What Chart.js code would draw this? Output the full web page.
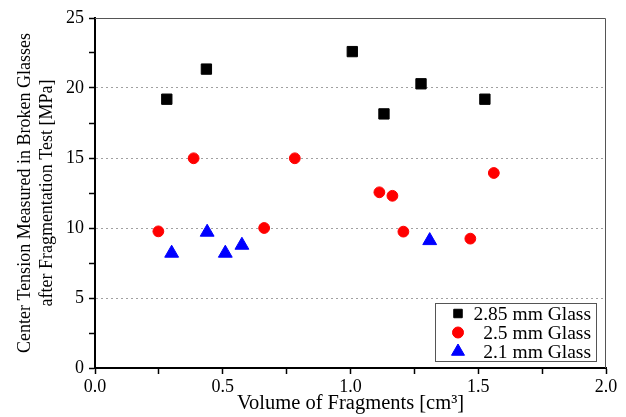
<!DOCTYPE html>
<html>
<head>
<meta charset="utf-8">
<script src="https://cdn.jsdelivr.net/npm/chart.js@4/dist/chart.umd.min.js"></script>
<style>
  html, body { margin: 0; padding: 0; background: #fff; }
  canvas { display: block; }
</style>
</head>
<body>
<canvas id="c" width="626" height="417"></canvas>
<script>
// ---- Data ----
const seriesLabels = ["2.85 mm Glass", "2.5 mm Glass", "2.1 mm Glass"];

const x285 = [0.281, 0.436, 1.007, 1.131, 1.276, 1.526];
const y285 = [19.2, 21.35, 22.6, 18.15, 20.3, 19.2];

const x25 = [0.248, 0.386, 0.662, 0.782, 1.113, 1.164, 1.207, 1.469, 1.561];
const y25 = [9.76, 14.98, 10.0, 14.98, 12.55, 12.3, 9.74, 9.24, 13.93];

const x21 = [0.300, 0.439, 0.510, 0.575, 1.310];
const y21 = [8.2, 9.7, 8.2, 8.77, 9.1];

const xTitle = "Volume of Fragments [cm³]";
const yTitle = ["Center Tension Measured in Broken Glasses", "after Fragmentation Test [MPa]"];
const yGridValues = [5, 10, 15, 20];

function pts(xs, ys) { return xs.map((x, i) => ({ x: x, y: ys[i] })); }

const FONT = "Liberation Serif";

const framePlugin = {
  id: 'frame',
  afterDatasetsDraw(chart) {
    const { ctx, chartArea: a } = chart;
    ctx.save();
    ctx.strokeStyle = '#555';
    ctx.lineWidth = 1;
    ctx.beginPath();
    ctx.moveTo(a.left, a.top + 0.5);
    ctx.lineTo(a.right - 0.5, a.top + 0.5);
    ctx.lineTo(a.right - 0.5, a.bottom);
    ctx.stroke();
    ctx.restore();
  }
};

const legendPlugin = {
  id: 'boxLegend',
  afterDraw(chart) {
    const { ctx } = chart;
    const bx = 435, by = 303, bw = 161, bh = 58;
    ctx.save();
    ctx.fillStyle = '#fff';
    ctx.fillRect(bx, by, bw, bh);
    ctx.strokeStyle = '#555';
    ctx.lineWidth = 1;
    ctx.strokeRect(bx + 0.5, by + 0.5, bw, bh);
    const rowY = [313.5, 332.5, 351.5];
    const radii = [6, 5.5, 7.5];
    chart.data.datasets.forEach((ds, i) => {
      ctx.fillStyle = ds.backgroundColor;
      ctx.strokeStyle = ds.borderColor;
      ctx.lineWidth = 1;
      Chart.helpers.drawPoint(ctx, { pointStyle: ds.pointStyle, radius: radii[i], rotation: 0, borderWidth: 1 }, 458, rowY[i]);
      ctx.fillStyle = '#000';
      ctx.font = '19.5px "Liberation Serif", serif';
      ctx.textAlign = 'right';
      ctx.textBaseline = 'middle';
      ctx.fillText(ds.label, 591, rowY[i] + 1);
    });
    ctx.restore();
  }
};

new Chart(document.getElementById('c'), {
  type: 'scatter',
  data: {
    datasets: [
      { label: seriesLabels[0], data: pts(x285, y285), pointStyle: 'rect', pointRadius: 7.3,
        backgroundColor: '#000', borderColor: '#000', borderWidth: 1 },
      { label: seriesLabels[1], data: pts(x25, y25), pointStyle: 'circle', pointRadius: 5.4,
        backgroundColor: '#ff0000', borderColor: '#ff0000', borderWidth: 1 },
      { label: seriesLabels[2], data: pts(x21, y21), pointStyle: 'triangle', pointRadius: 8,
        backgroundColor: '#0000ff', borderColor: '#0000ff', borderWidth: 1 }
    ]
  },
  options: {
    responsive: false,
    animation: false,
    events: [],
    layout: { padding: { top: 18, right: 20, left: 0, bottom: 0 } },
    plugins: {
      legend: { display: false },
      tooltip: { enabled: false },
      title: { display: false }
    },
    scales: {
      x: {
        type: 'linear',
        min: 0, max: 2,
        afterFit(s) { s.height = 49; },
        border: { display: true, color: '#000', width: 2 },
        grid: { drawOnChartArea: false, drawTicks: true, tickColor: '#000', tickLength: 6, tickWidth: 1.5 },
        ticks: {
          stepSize: 0.25,
          autoSkip: false,
          maxRotation: 0,
          padding: 2,
          color: '#000',
          font: { family: FONT, size: 18 },
          callback(v) {
            const d = v * 2;
            return Math.abs(d - Math.round(d)) < 1e-9 ? v.toFixed(1) : '';
          }
        },
        title: {
          display: true, text: xTitle, color: '#000',
          font: { family: FONT, size: 20.5, lineHeight: 1.1 },
          padding: { top: 0, bottom: 2 }
        }
      },
      y: {
        type: 'linear',
        min: 0, max: 25,
        afterFit(s) { s.width = 95; },
        border: { display: true, color: '#000', width: 2, dash: [2, 3] },
        grid: {
          drawOnChartArea: true,
          drawTicks: true,
          color(ctx) {
            return ctx.tick && yGridValues.includes(ctx.tick.value) ? '#a0a0a0' : 'rgba(0,0,0,0)';
          },
          lineWidth: 1,
          tickColor: '#000',
          tickLength: 6,
          tickWidth: 1.5
        },
        ticks: {
          stepSize: 2.5,
          autoSkip: false,
          padding: 5,
          color: '#000',
          font: { family: FONT, size: 18 },
          callback(v) { return v % 5 === 0 ? String(v) : ''; }
        },
        title: {
          display: true, text: yTitle, color: '#000',
          font: { family: FONT, size: 18, lineHeight: 1.25 },
          padding: { top: 14, bottom: 0 }
        }
      }
    }
  },
  plugins: [framePlugin, legendPlugin]
});
</script>
</body>
</html>
